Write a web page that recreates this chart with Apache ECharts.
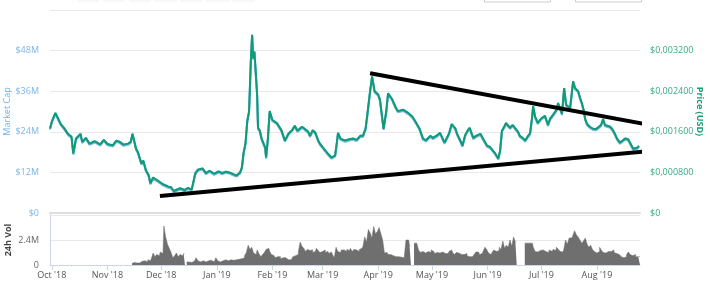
<!DOCTYPE html>
<html>
<head>
<meta charset="utf-8">
<script src="https://cdn.jsdelivr.net/npm/echarts@6/dist/echarts.min.js"></script>
<style>html,body{margin:0;padding:0;background:#fff}#c{width:710px;height:285px}</style>
</head>
<body>
<div id="c"></div>
<script>
// x values: days since 2018-09-30 (UTC)
const BASE_DATE = Date.UTC(2018, 8, 30);
const AXIS_END_DAY = 329;

const dayIdx = [0,1,3,4,6,8,10,12,13,14.5,17,18,20,22,25,28,30,32,35,37,39,41,43.5,45,46,48,49,51,52,53.5,55,56,57.5,58.5,60,61,63,64,66,67.5,69,70,72.5,75,77,79,81,82.5,85,87,89,91.5,94,96,98,100,102.5,104,106,107,108,109,110,111,112,112.7,113.3,114,115.5,116,117,118,120,120.5,121.5,122.5,124,126.5,129,131,133,135,136.5,138,140.5,142,144,145,146.5,148,149.5,150.5,152,153,155,156,157,159,160,160.6,162,164.5,167,169,171,173,174.5,176,177,178.5,179.6,181,183,184,185,186,187.5,188.5,190.7,192.5,194,197,199.7,202,203.6,206,208,209.7,212,213.6,216,217.5,219,220,222.5,224,226,227,228.7,230,231.5,233,234,236,237.6,240,242,243.7,245.4,246.5,248,250,251,252,253.3,254.3,256.5,258,259,261,262,264,265,266.6,267.7,268.8,269.4,270.5,272,274,276,277.7,278.8,280.5,282.7,283.3,284.4,285.5,286.7,287.8,288.3,290,291.7,292.8,294.5,295.6,296.7,297.8,298.4,299.5,301,302.8,304.5,305.6,307.3,308.4,309.5,310.6,312.3,313.4,315,316.2,317.8,319.5,320.7,322.4,323.5,325.2,326.3,327.4,328.5];

const marketCapM = [25.0,27.0,29.6,28.5,26.3,25.0,23.4,22.5,17.6,22.0,23.4,21.0,22.2,20.5,21.2,20.3,21.6,20.4,20.0,21.4,21.0,20.2,20.5,21.0,23.4,19.0,18.0,14.6,15.5,12.6,11.2,8.8,10.5,10.2,9.6,9.4,8.5,8.8,7.8,7.6,6.5,6.7,7.3,6.8,7.4,6.9,11.7,12.8,13.2,11.8,12.5,11.6,12.3,11.8,12.2,12.0,11.4,11.1,12.0,13.5,18.0,20.5,27.2,30.0,45.0,52.7,45.7,47.7,35.0,25.2,24.3,22.0,19.3,16.4,22.0,30.1,27.5,26.6,24.5,21.4,23.5,24.5,25.8,24.3,25.5,24.9,24.0,22.8,24.5,23.7,21.5,20.5,19.5,19.0,17.5,18.0,16.4,17.0,21.0,23.7,22.0,21.4,21.8,22.0,21.6,22.8,22.8,25.0,29.3,36.0,40.4,36.0,35.0,33.5,33.0,24.9,30.0,35.4,33.7,31.5,30.1,30.5,29.6,28.5,27.2,25.0,22.0,21.5,22.8,22.2,23.0,23.7,22.0,20.8,23.5,26.3,25.0,23.4,21.5,19.9,23.0,24.5,25.2,22.2,22.8,23.4,21.5,19.9,19.5,19.0,17.8,16.1,18.5,24.3,25.5,26.6,25.2,26.0,25.8,24.0,22.8,22.0,21.4,22.8,23.5,28.1,31.6,28.5,26.6,28.0,28.7,26.0,27.8,29.0,30.7,32.5,31.0,29.3,36.9,32.0,31.6,31.0,38.9,36.9,36.0,34.0,32.2,30.0,27.8,26.3,25.5,24.9,24.8,24.3,26.0,27.8,26.0,26.3,25.5,24.9,23.4,22.0,20.8,21.5,22.0,21.8,21.4,19.0,19.2,19.3,19.8];

const priceUSD = [0.001667,0.001800,0.001973,0.001900,0.001753,0.001667,0.001560,0.001500,0.001173,0.001467,0.001560,0.001400,0.001480,0.001367,0.001413,0.001353,0.001440,0.001360,0.001333,0.001427,0.001400,0.001347,0.001367,0.001400,0.001560,0.001267,0.001200,0.000973,0.001033,0.000840,0.000747,0.000587,0.000700,0.000680,0.000640,0.000627,0.000567,0.000587,0.000520,0.000507,0.000433,0.000447,0.000487,0.000453,0.000493,0.000460,0.000780,0.000853,0.000880,0.000787,0.000833,0.000773,0.000820,0.000787,0.000813,0.000800,0.000760,0.000740,0.000800,0.000900,0.001200,0.001367,0.001813,0.002000,0.003000,0.003513,0.003047,0.003180,0.002333,0.001680,0.001620,0.001467,0.001287,0.001093,0.001467,0.002007,0.001833,0.001773,0.001633,0.001427,0.001567,0.001633,0.001720,0.001620,0.001700,0.001660,0.001600,0.001520,0.001633,0.001580,0.001433,0.001367,0.001300,0.001267,0.001167,0.001200,0.001093,0.001133,0.001400,0.001580,0.001467,0.001427,0.001453,0.001467,0.001440,0.001520,0.001520,0.001667,0.001953,0.002400,0.002693,0.002400,0.002333,0.002233,0.002200,0.001660,0.002000,0.002360,0.002247,0.002100,0.002007,0.002033,0.001973,0.001900,0.001813,0.001667,0.001467,0.001433,0.001520,0.001480,0.001533,0.001580,0.001467,0.001387,0.001567,0.001753,0.001667,0.001560,0.001433,0.001327,0.001533,0.001633,0.001680,0.001480,0.001520,0.001560,0.001433,0.001327,0.001300,0.001267,0.001187,0.001073,0.001233,0.001620,0.001700,0.001773,0.001680,0.001733,0.001720,0.001600,0.001520,0.001467,0.001427,0.001520,0.001567,0.001873,0.002107,0.001900,0.001773,0.001867,0.001913,0.001733,0.001853,0.001933,0.002047,0.002167,0.002067,0.001953,0.002460,0.002133,0.002107,0.002067,0.002593,0.002460,0.002400,0.002267,0.002147,0.002000,0.001853,0.001753,0.001700,0.001660,0.001653,0.001620,0.001733,0.001853,0.001733,0.001753,0.001700,0.001660,0.001560,0.001467,0.001387,0.001433,0.001467,0.001453,0.001427,0.001267,0.001280,0.001287,0.001320];

const volDay = [45.7,47,48,49,50,51,52,53,54,55,56,57,58,59,60,61,62,63,64,65,66,67,68,69,70,71,72,73,74,75,75.5,77,78,79,80,81,82,83,84,85,86,87,88,89,90,91,92,93,94,95,96,97,98,99,100,101,102,103,104,105,106,107,108,109,110,111,112,113,114,115,116,117,118,119,120,121,122,123,124,125,126,127,128,129,130,131,132,133,134,135,136,137,138,139,140,141,142,143,144,145,146,147,148,149,150,151,152,153,154,155,156,157,158,159,160,161,162,163,164,165,166,167,168,169,170,171,172,173,174,175,176,177,178,179,180,181,182,183,184,185,186,187,188,189,190,191,192,193,194,195,196,197,198,199,200,201,201.5,204.5,205,206,207,208,209,210,211,212,213,214,215,216,217,218,219,220,221,222,223,224,225,226,227,228,229,230,231,232,233,234,235,236,237,238,239,240,241,242,243,244,245,246,247,248,249,250,251,252,253,254,255,256,257,258,259,260,260.5,269,270,271,272,273,274,275,276,277,278,279,280,281,282,283,284,285,286,287,288,289,290,291,292,293,294,295,296,297,298,299,300,301,302,303,304,305,306,307,308,309,310,311,312,313,314,315,316,317,318,319,320,321,322,323,324,325,326,327,328,329];

const volumeM = [0.15,0.25,0.2,0.3,0.2,0.35,0.25,0.4,0.3,0.5,0.4,0.6,1.15,0.8,1.0,0.9,1.25,1.1,3.74,2.7,2.0,1.6,1.2,0.7,0.9,1.15,0.8,1.0,0.9,1.1,null,0.3,0.3,0.25,0.35,0.3,0.7,0.4,0.3,0.4,0.35,0.3,0.4,0.35,0.45,0.3,0.35,0.7,0.4,0.3,0.4,0.35,0.5,0.4,0.35,0.5,0.45,0.4,0.5,0.55,0.45,0.6,0.7,0.9,1.2,1.9,1.5,1.7,1.15,1.0,1.45,1.1,0.8,1.0,1.2,1.5,1.6,1.3,1.0,0.9,0.7,0.8,0.8,0.6,0.7,0.7,0.55,0.5,0.5,0.6,0.8,0.9,1.0,1.3,2.2,1.8,1.6,1.3,1.5,1.4,1.45,1.2,1.3,1.6,1.4,1.2,1.3,1.45,1.2,1.3,1.1,1.25,1.0,0.7,1.7,1.3,1.2,1.45,1.45,1.3,1.5,1.4,1.6,1.3,1.5,1.45,1.3,1.5,1.6,1.8,2.7,2.2,3.4,3.1,2.6,3.7,3.0,3.2,3.6,3.0,2.4,1.15,1.2,1.0,1.0,0.9,1.0,0.8,0.8,0.7,0.75,0.7,0.8,2.4,2.4,1.8,null,2.1,2.1,1.45,1.2,1.3,1.15,1.2,1.3,1.2,1.45,1.3,1.1,1.2,1.15,1.0,1.25,1.1,1.25,1.1,1.3,1.45,1.2,1.0,1.2,1.15,1.0,0.9,1.0,1.1,0.9,0.8,0.8,0.9,1.0,1.25,1.25,1.0,1.1,1.3,1.7,1.5,1.15,1.0,1.2,1.45,1.3,1.4,1.7,1.5,2.3,1.6,1.9,1.7,2.4,1.8,2.7,2.2,null,2.1,1.7,1.3,1.25,1.4,1.3,1.45,1.3,1.4,1.2,1.45,1.3,1.5,1.4,1.7,1.5,1.3,1.25,1.5,2.4,2.0,2.6,2.6,2.8,3.3,2.9,2.7,2.4,2.1,2.3,2.6,2.0,1.7,1.9,1.5,1.3,1.15,1.3,1.7,1.4,1.2,1.15,1.3,1.25,1.3,1.45,1.2,1.1,1.0,0.9,0.8,0.7,0.8,1.0,1.25,1.0,0.9,1.0,0.8,0.8,0.8];

// drawn trend lines: [day, market cap in $M]
const upperTrend = [[178.5, 41.3], [331.8, 26.3]];
const lowerTrend = [[61.3, 5.0], [330.7, 18.1]];

const monthNames = ['Jan','Feb','Mar','Apr','May','Jun','Jul','Aug','Sep','Oct','Nov','Dec'];
const mcapTicks = {min: 0, max: 60, interval: 12};
const priceTicks = {min: 0, max: 0.004, interval: 0.0008};
const volTicks = {min: 0, max: 4.8, interval: 2.4};

const toT = d => BASE_DATE + d * 86400000;
const mcapData = dayIdx.map((d, i) => [toT(d), marketCapM[i]]);
const priceData = dayIdx.map((d, i) => [toT(d), priceUSD[i]]);
const volData = volDay.map((d, i) => [toT(d), volumeM[i]]);
const trendData = t => t.map(p => [toT(p[0]), p[1]]);

const FONT = 'Open Sans';
const chart = echarts.init(document.getElementById('c'), null, {renderer: 'canvas'});
chart.setOption({
  animation: false,
  backgroundColor: '#fff',
  textStyle: {fontFamily: FONT},
  grid: [
    {left: 50, right: 70, top: 10, height: 203, containLabel: false, outerBoundsMode: 'none'},
    {left: 50, right: 70, top: 215, height: 50, containLabel: false, outerBoundsMode: 'none'}
  ],
  xAxis: [
    {type: 'time', gridIndex: 0, min: toT(0), max: toT(AXIS_END_DAY),
     axisLine: {show: true, lineStyle: {color: '#dedede', width: 2}},
     axisTick: {show: false}, axisLabel: {show: false}, splitLine: {show: false}},
    {type: 'time', gridIndex: 1, min: toT(0), max: toT(AXIS_END_DAY),
     minInterval: 28 * 86400000, maxInterval: 31 * 86400000,
     axisLine: {show: true, lineStyle: {color: '#ccd6eb', width: 1}},
     axisTick: {show: true, length: 5, lineStyle: {color: '#ccd6eb'}},
     splitLine: {show: false},
     axisLabel: {color: '#555', fontSize: 9, fontFamily: FONT, margin: 6, hideOverlap: false,
       formatter: v => { const dt = new Date(v); return monthNames[dt.getUTCMonth()] + " '" + String(dt.getUTCFullYear()).slice(2); }}}
  ],
  yAxis: [
    {type: 'value', gridIndex: 0, position: 'left', min: mcapTicks.min, max: mcapTicks.max, interval: mcapTicks.interval,
     name: 'Market Cap', nameLocation: 'middle', nameGap: 38, nameRotate: 90, nameMoveOverlap: false,
     nameTextStyle: {color: '#6fb2ea', fontSize: 9, fontFamily: FONT},
     axisLine: {show: false}, axisTick: {show: false},
     splitLine: {lineStyle: {color: '#e9e9e9'}},
     axisLabel: {color: '#7cb5ec', fontSize: 9, margin: 11, padding: [0,0,7,0], showMaxLabel: false,
       formatter: v => v === 0 ? '$0' : '$' + v + 'M'}},
    {type: 'value', gridIndex: 0, position: 'right', min: priceTicks.min, max: priceTicks.max, interval: priceTicks.interval,
     name: 'Price (USD)', nameLocation: 'middle', nameGap: 55, nameRotate: -90, nameMoveOverlap: false,
     nameTextStyle: {color: '#1a9c74', fontSize: 9, fontWeight: 'bold', fontFamily: FONT},
     axisLine: {show: false}, axisTick: {show: false}, splitLine: {show: false},
     axisLabel: {color: '#3aaa88', fontSize: 9, margin: 10, padding: [0,0,7,0], showMaxLabel: false,
       formatter: v => v === 0 ? '$0' : '$' + v.toFixed(6).replace('.', ',')}},
    {type: 'value', gridIndex: 1, min: volTicks.min, max: volTicks.max, interval: volTicks.interval,
     name: '24h Vol', nameLocation: 'middle', nameGap: 37, nameRotate: 90, nameMoveOverlap: false,
     nameTextStyle: {color: '#444', fontSize: 9, fontWeight: 'bold', fontFamily: FONT},
     axisLine: {show: true, lineStyle: {color: '#ccd6eb'}}, axisTick: {show: false},
     splitLine: {lineStyle: {color: '#e9e9e9'}},
     axisLabel: {color: '#666', fontSize: 9, margin: 11, padding: [0,0,7,0], showMaxLabel: false,
       formatter: v => v === 0 ? '0' : v + 'M'}}
  ],
  series: [
    {name: 'Volume', type: 'line', xAxisIndex: 1, yAxisIndex: 2, data: volData, step: 'middle',
     symbol: 'none', connectNulls: false, lineStyle: {width: 0.5, color: '#6f6f6f'},
     areaStyle: {color: '#6f6f6f', opacity: 1}},
    {name: 'Market Cap', type: 'line', xAxisIndex: 0, yAxisIndex: 0, data: mcapData, symbol: 'none',
     lineStyle: {width: 2, color: '#7cb5ec', shadowColor: '#7cb5ec', shadowOffsetY: 1.2, shadowBlur: 0}},
    {name: 'Price', type: 'line', xAxisIndex: 0, yAxisIndex: 1, data: priceData, symbol: 'none',
     lineStyle: {width: 2, color: '#0e9c72'}},
    {name: 'Upper trend', type: 'line', xAxisIndex: 0, yAxisIndex: 0, data: trendData(upperTrend), symbol: 'none',
     clip: false, z: 10, lineStyle: {width: 4, color: '#000'}},
    {name: 'Lower trend', type: 'line', xAxisIndex: 0, yAxisIndex: 0, data: trendData(lowerTrend), symbol: 'none',
     clip: false, z: 10, lineStyle: {width: 4, color: '#000'}}
  ],
  graphic: [
    {type: 'rect', shape: {x: 77, y: -10, width: 22, height: 12}, style: {fill: '#f7f7f7'}},
    {type: 'rect', shape: {x: 103, y: -10, width: 21, height: 12}, style: {fill: '#f7f7f7'}},
    {type: 'rect', shape: {x: 129, y: -10, width: 22, height: 12}, style: {fill: '#f7f7f7'}},
    {type: 'rect', shape: {x: 155, y: -10, width: 22, height: 12}, style: {fill: '#f7f7f7'}},
    {type: 'rect', shape: {x: 180, y: -10, width: 22, height: 12}, style: {fill: '#f7f7f7'}},
    {type: 'rect', shape: {x: 206, y: -10, width: 23, height: 12}, style: {fill: '#f7f7f7'}},
    {type: 'rect', shape: {x: 232, y: -10, width: 23, height: 12}, style: {fill: '#f7f7f7'}},
    {type: 'rect', shape: {x: 484.5, y: -10, width: 66, height: 12}, style: {fill: '#fff', stroke: '#cccccc', lineWidth: 1}},
    {type: 'rect', shape: {x: 575.5, y: -10, width: 66, height: 12}, style: {fill: '#fff', stroke: '#cccccc', lineWidth: 1}}
  ]
});
</script>
</body>
</html>
